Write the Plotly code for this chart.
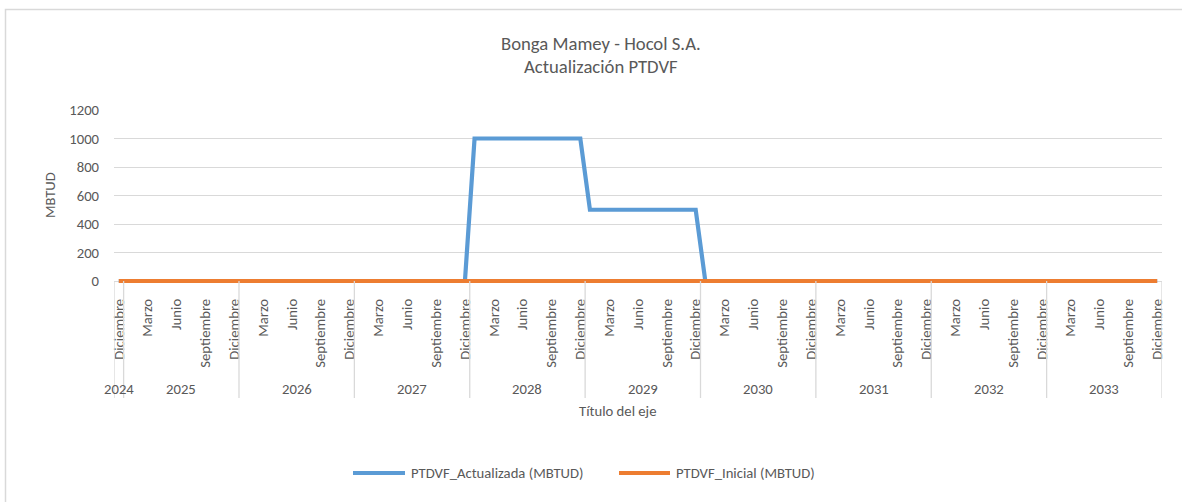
import plotly.graph_objects as go

# ---------------- data ----------------
years = ["2024", "2025", "2026", "2027", "2028", "2029", "2030", "2031", "2032", "2033"]
month_names = ["Enero", "Febrero", "Marzo", "Abril", "Mayo", "Junio", "Julio",
               "Agosto", "Septiembre", "Octubre", "Noviembre", "Diciembre"]

# monthly categories: Diciembre 2024 then every month 2025..2033
categories = [("2024", "Diciembre")] + [(y, m) for y in years[1:] for m in month_names]

# PTDVF_Actualizada (MBTUD), monthly
actualizada = [
    0,                                                          # 2024 Dic
    0, 0, 0, 0, 0, 0, 0, 0, 0, 0, 0, 0,                         # 2025
    0, 0, 0, 0, 0, 0, 0, 0, 0, 0, 0, 0,                         # 2026
    0, 0, 0, 0, 0, 0, 0, 0, 0, 0, 0, 0,                         # 2027
    1000, 1000, 1000, 1000, 1000, 1000, 1000, 1000, 1000, 1000, 1000, 1000,  # 2028
    500, 500, 500, 500, 500, 500, 500, 500, 500, 500, 500, 500,  # 2029
    0, 0, 0, 0, 0, 0, 0, 0, 0, 0, 0, 0,                         # 2030
    0, 0, 0, 0, 0, 0, 0, 0, 0, 0, 0, 0,                         # 2031
    0, 0, 0, 0, 0, 0, 0, 0, 0, 0, 0, 0,                         # 2032
    0, 0, 0, 0, 0, 0, 0, 0, 0, 0, 0, 0,                         # 2033
]

# PTDVF_Inicial (MBTUD), monthly
inicial = [
    0,                                                          # 2024 Dic
    0, 0, 0, 0, 0, 0, 0, 0, 0, 0, 0, 0,                         # 2025
    0, 0, 0, 0, 0, 0, 0, 0, 0, 0, 0, 0,                         # 2026
    0, 0, 0, 0, 0, 0, 0, 0, 0, 0, 0, 0,                         # 2027
    0, 0, 0, 0, 0, 0, 0, 0, 0, 0, 0, 0,                         # 2028
    0, 0, 0, 0, 0, 0, 0, 0, 0, 0, 0, 0,                         # 2029
    0, 0, 0, 0, 0, 0, 0, 0, 0, 0, 0, 0,                         # 2030
    0, 0, 0, 0, 0, 0, 0, 0, 0, 0, 0, 0,                         # 2031
    0, 0, 0, 0, 0, 0, 0, 0, 0, 0, 0, 0,                         # 2032
    0, 0, 0, 0, 0, 0, 0, 0, 0, 0, 0, 0,                         # 2033
]

y_ticks = [0, 200, 400, 600, 800, 1000, 1200]
series_names = ["PTDVF_Actualizada (MBTUD)", "PTDVF_Inicial (MBTUD)"]
title_lines = ["Bonga Mamey - Hocol S.A.", "Actualización PTDVF"]
x_title = "Título del eje"
y_title = "MBTUD"

# ---------------- layout helpers ----------------
W, H = 1182, 502
PLOT_L, PLOT_R = 114, 1162          # plot area (px)
Y_TOP, Y_ZERO, PLOT_B = 110, 281, 284
L, R, T, B = PLOT_L, W - PLOT_R, Y_TOP, H - PLOT_B
PW, PH = W - L - R, H - T - B
Y_MIN = -(PLOT_B - Y_ZERO) * 1200 / (Y_ZERO - Y_TOP)   # small pad so the zero line is not clipped

FONT = "Carlito, Calibri, Lato, 'Liberation Sans', sans-serif"
TXT = "#595959"
GRID = "#D9D9D9"
BLUE = "#5B9BD5"
ORANGE = "#ED7D31"


def px_x(px):
    return (px - L) / PW


def px_y(py):
    return (PLOT_B - py) / PH


idx = list(range(len(categories)))

fig = go.Figure()
fig.add_trace(go.Scatter(x=idx, y=actualizada, mode="lines", name=series_names[0],
                         line=dict(color=BLUE, width=4.2), showlegend=False))
fig.add_trace(go.Scatter(x=idx, y=inicial, mode="lines", name=series_names[1],
                         line=dict(color=ORANGE, width=4.2), showlegend=False))

shapes = []
annotations = []

# year group separators and year labels
bounds = [-0.5]
for i in range(1, len(categories)):
    if categories[i][0] != categories[i - 1][0]:
        bounds.append(i - 0.5)
bounds.append(len(categories) - 0.5)
for b in bounds:
    shapes.append(dict(type="line", xref="x", yref="paper", x0=b, x1=b,
                       y0=px_y(Y_ZERO), y1=px_y(398), line=dict(color=GRID, width=1.3)))
for y in years:
    ii = [i for i, c in enumerate(categories) if c[0] == y]
    annotations.append(dict(x=(ii[0] + ii[-1]) / 2, xref="x", y=px_y(389), yref="paper",
                            text=y, showarrow=False, xanchor="center", yanchor="middle",
                            font=dict(family=FONT, size=14.7, color=TXT)))

# titles
annotations.append(dict(x=px_x(601), y=px_y(44), xref="paper", yref="paper", text=title_lines[0],
                        showarrow=False, xanchor="center", yanchor="middle",
                        font=dict(family=FONT, size=18.7, color=TXT)))
annotations.append(dict(x=px_x(601), y=px_y(67), xref="paper", yref="paper", text=title_lines[1],
                        showarrow=False, xanchor="center", yanchor="middle",
                        font=dict(family=FONT, size=18.7, color=TXT)))
annotations.append(dict(x=px_x(617), y=px_y(411), xref="paper", yref="paper", text=x_title,
                        showarrow=False, xanchor="center", yanchor="middle",
                        font=dict(family=FONT, size=14.7, color=TXT)))
annotations.append(dict(x=px_x(50), y=px_y(195), xref="paper", yref="paper", text=y_title,
                        showarrow=False, xanchor="center", yanchor="middle", textangle=-90,
                        font=dict(family=FONT, size=14.7, color=TXT)))

# legend (drawn manually to match the line-sample length)
leg = [(353, 405, 409, BLUE, series_names[0]), (619, 670, 674, ORANGE, series_names[1])]
for x0, x1, xt, col, name in leg:
    shapes.append(dict(type="line", xref="paper", yref="paper", x0=px_x(x0), x1=px_x(x1),
                       y0=px_y(473), y1=px_y(473), line=dict(color=col, width=4.2)))
    annotations.append(dict(x=px_x(xt), y=px_y(473), xref="paper", yref="paper", text=name,
                            showarrow=False, xanchor="left", yanchor="middle",
                            font=dict(family=FONT, size=14.7, color=TXT)))

# chart border
shapes.append(dict(type="rect", xref="paper", yref="paper", x0=px_x(5.5), x1=px_x(1197),
                   y0=px_y(515), y1=px_y(9.5), line=dict(color=GRID, width=1.5), layer="below"))

fig.update_layout(
    width=W, height=H,
    margin=dict(l=L, r=R, t=T, b=B, pad=0),
    paper_bgcolor="white", plot_bgcolor="white",
    showlegend=False,
    shapes=shapes, annotations=annotations,
    font=dict(family=FONT, size=14.7, color=TXT),
    xaxis=dict(range=[-0.5, len(categories) - 0.5], tickmode="array",
               tickvals=idx[::3], ticktext=[c[1] for c in categories[::3]],
               tickangle=-90, ticks="outside", ticklen=8, tickcolor="rgba(0,0,0,0)",
               showgrid=False, zeroline=False, showline=False,
               tickfont=dict(family=FONT, size=14.7, color=TXT)),
    yaxis=dict(range=[Y_MIN, 1200], tickmode="array", tickvals=y_ticks,
               ticks="outside", ticklen=11, tickcolor="rgba(0,0,0,0)",
               showgrid=True, gridcolor=GRID, gridwidth=1.3, zeroline=False, showline=False,
               tickfont=dict(family=FONT, size=14.7, color=TXT)),
)

fig.write_html("out.html", config={"displayModeBar": False},
               post_script="document.body.style.margin='0';"
                           "document.body.style.overflow='hidden';")
